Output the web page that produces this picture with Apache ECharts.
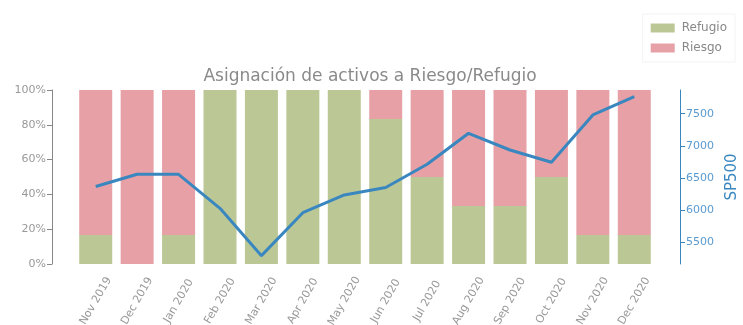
<!DOCTYPE html>
<html><head><meta charset="utf-8">
<script src="https://cdn.jsdelivr.net/npm/echarts@6/dist/echarts.min.js"></script>
<style>html,body{margin:0;padding:0;background:#fff}#c{width:743px;height:325px}</style>
</head><body><div id="c"></div>
<script>
const categories = ['Nov 2019','Dec 2019','Jan 2020','Feb 2020','Mar 2020','Apr 2020','May 2020','Jun 2020','Jul 2020','Aug 2020','Sep 2020','Oct 2020','Nov 2020','Dec 2020'];
const refugio = [16.7, 0, 16.7, 100, 100, 100, 100, 83.3, 50, 33.3, 33.3, 50, 16.7, 16.7];
const riesgo = [83.3, 100, 83.3, 0, 0, 0, 0, 16.7, 50, 66.7, 66.7, 50, 83.3, 83.3];
const sp500 = [6365, 6555, 6555, 6025, 5287, 5957, 6233, 6350, 6711, 7194, 6934, 6742, 7480, 7765];
const pctTicks = [0, 20, 40, 60, 80, 100];
const spTicks = [5500, 6000, 6500, 7000, 7500];

const font = 'DejaVu Sans';
const chart = echarts.init(document.getElementById('c'), null, {renderer: 'canvas'});
chart.setOption({
  animation: false,
  backgroundColor: '#fff',
  title: {
    text: 'Asignación de activos a Riesgo/Refugio',
    left: 365, top: 63, textAlign: 'center',
    textStyle: {fontFamily: font, fontSize: 17, fontWeight: 'normal', color: '#8a8a8a'}
  },
  legend: {
    orient: 'vertical', right: 8, top: 14,
    icon: 'rect',
    itemWidth: 24, itemHeight: 9, itemGap: 8,
    padding: [8, 8, 8, 8],
    borderColor: '#f3f3f3', borderWidth: 1, borderRadius: 0,
    textStyle: {fontFamily: font, fontSize: 12, color: '#888', padding: [0, 0, 0, 2]},
    data: ['Refugio', 'Riesgo']
  },
  grid: {left: 75, right: 88, top: 90, bottom: 61, containLabel: false, outerBoundsMode: 'none'},
  xAxis: {
    type: 'category', data: categories, boundaryGap: true,
    axisLine: {show: false}, axisTick: {show: false},
    axisLabel: {rotate: 60, align: 'center', verticalAlign: 'middle', margin: 37,
      fontFamily: font, fontSize: 11, color: '#999', interval: 0}
  },
  yAxis: [
    {
      type: 'value', min: 0, max: 100, interval: 20, position: 'left', offset: 23,
      axisLine: {show: true, lineStyle: {color: '#888', width: 1}},
      axisTick: {show: true, length: 5, lineStyle: {color: '#888'}},
      splitLine: {show: false},
      axisLabel: {formatter: v => v + '%', fontFamily: font, fontSize: 11, color: '#999', margin: 6}
    },
    {
      type: 'value', min: 5157, max: 7869, position: 'right', offset: 25,
      axisLine: {show: true, lineStyle: {color: '#3a87c0', width: 1}},
      axisTick: {show: true, length: 5, customValues: spTicks, lineStyle: {color: '#3a87c0'}},
      splitLine: {show: false},
      axisLabel: {customValues: spTicks, formatter: v => String(v), fontFamily: font, fontSize: 11, color: '#5a9ad0', margin: 6},
      name: 'SP500', nameLocation: 'middle', nameRotate: 90, nameGap: 41,
      nameTextStyle: {fontFamily: font, fontSize: 15, color: '#3a87c0'}
    }
  ],
  series: [
    {name: 'Refugio', type: 'bar', stack: 'a', data: refugio, barWidth: 33,
      itemStyle: {color: '#bbc896'}},
    {name: 'Riesgo', type: 'bar', stack: 'a', data: riesgo, barWidth: 33,
      itemStyle: {color: '#e6a0a6'}},
    {name: 'SP500', type: 'line', yAxisIndex: 1, data: sp500, showSymbol: false, symbol: 'none',
      lineStyle: {color: '#3a87c0', width: 3}, z: 5}
  ]
});
</script></body></html>
